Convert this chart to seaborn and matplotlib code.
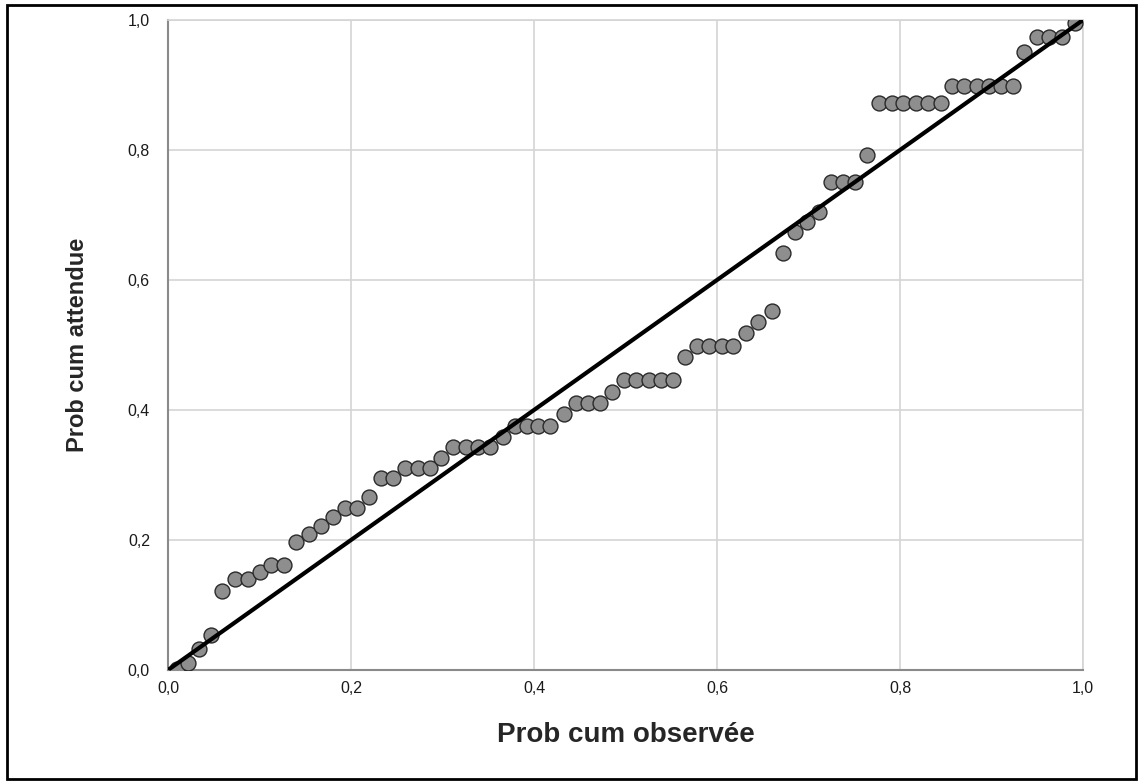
import matplotlib
matplotlib.use("Agg")
import matplotlib.pyplot as plt
import seaborn as sns
import pandas as pd
from matplotlib.patches import Rectangle
from matplotlib.ticker import FuncFormatter

# Observed cumulative probability (x) and expected cumulative probability (y)
obs_prob = [0.010, 0.022, 0.034, 0.047, 0.059, 0.073, 0.087, 0.100, 0.113, 0.127,
            0.140, 0.154, 0.167, 0.180, 0.193, 0.207, 0.220, 0.233, 0.246, 0.259,
            0.273, 0.286, 0.298, 0.311, 0.326, 0.339, 0.352, 0.366, 0.379, 0.392,
            0.404, 0.417, 0.433, 0.446, 0.459, 0.472, 0.485, 0.498, 0.512, 0.526,
            0.539, 0.552, 0.565, 0.578, 0.591, 0.605, 0.617, 0.632, 0.645, 0.660,
            0.672, 0.685, 0.698, 0.711, 0.725, 0.738, 0.751, 0.764, 0.777, 0.791,
            0.803, 0.818, 0.831, 0.845, 0.857, 0.870, 0.884, 0.897, 0.910, 0.924,
            0.936, 0.950, 0.963, 0.977, 0.991]
exp_prob = [0.002, 0.011, 0.032, 0.054, 0.122, 0.140, 0.140, 0.151, 0.162, 0.162,
            0.197, 0.209, 0.222, 0.235, 0.249, 0.249, 0.266, 0.295, 0.295, 0.311,
            0.311, 0.311, 0.326, 0.343, 0.343, 0.343, 0.343, 0.358, 0.375, 0.375,
            0.375, 0.375, 0.394, 0.411, 0.411, 0.411, 0.428, 0.446, 0.446, 0.446,
            0.446, 0.446, 0.482, 0.498, 0.498, 0.498, 0.498, 0.518, 0.535, 0.552,
            0.642, 0.674, 0.689, 0.705, 0.751, 0.751, 0.751, 0.792, 0.872, 0.872,
            0.872, 0.872, 0.872, 0.872, 0.898, 0.898, 0.898, 0.898, 0.898, 0.898,
            0.951, 0.974, 0.974, 0.974, 0.995]
ref_x = [0.0, 1.0]
ref_y = [0.0, 1.0]
tick_values = [0.0, 0.2, 0.4, 0.6, 0.8, 1.0]
x_label = "Prob cum observée"
y_label = "Prob cum attendue"

sns.set_style("white")
plt.rcParams["font.family"] = ["Liberation Sans", "DejaVu Sans"]

fig = plt.figure(figsize=(11.43, 7.83), dpi=100)
W, H = 1143, 783
ax = fig.add_axes([168 / W, 1 - 670 / H, (1083 - 168) / W, (670 - 20) / H])

df = pd.DataFrame({"x": obs_prob, "y": exp_prob})
sns.scatterplot(data=df, x="x", y="y", ax=ax, s=115, color="#8e8e8e",
                edgecolor="#2a2a2a", linewidth=1.0, zorder=3)
sns.lineplot(x=ref_x, y=ref_y, ax=ax, color="black", linewidth=3.0, zorder=4)

ax.set_xlim(0, 1)
ax.set_ylim(0, 1)
ax.set_xticks(tick_values)
ax.set_yticks(tick_values)
fmt = FuncFormatter(lambda v, p: f"{v:.1f}".replace(".", ","))
ax.xaxis.set_major_formatter(fmt)
ax.yaxis.set_major_formatter(fmt)
ax.tick_params(axis="both", length=0, labelsize=11.5, colors="#1a1a1a")
ax.tick_params(axis="x", pad=8)
ax.tick_params(axis="y", pad=13)
ax.grid(True, color="#d4d4d4", linewidth=1.2, zorder=0)
ax.set_axisbelow(True)
for side in ["top", "right"]:
    ax.spines[side].set_color("#d4d4d4")
    ax.spines[side].set_linewidth(1.2)
for side in ["left", "bottom"]:
    ax.spines[side].set_color("#8a8a8a")
    ax.spines[side].set_linewidth(1.5)

ax.set_xlabel(x_label, fontsize=20, fontweight="bold", labelpad=19)
ax.set_ylabel(y_label, fontsize=17, fontweight="bold", labelpad=28)

fig.patches.append(Rectangle((7 / W, 4 / H), (1136 - 7) / W, (778 - 4) / H,
                             transform=fig.transFigure, fill=False,
                             edgecolor="black", linewidth=2))

fig.savefig("out.png", dpi=100)
